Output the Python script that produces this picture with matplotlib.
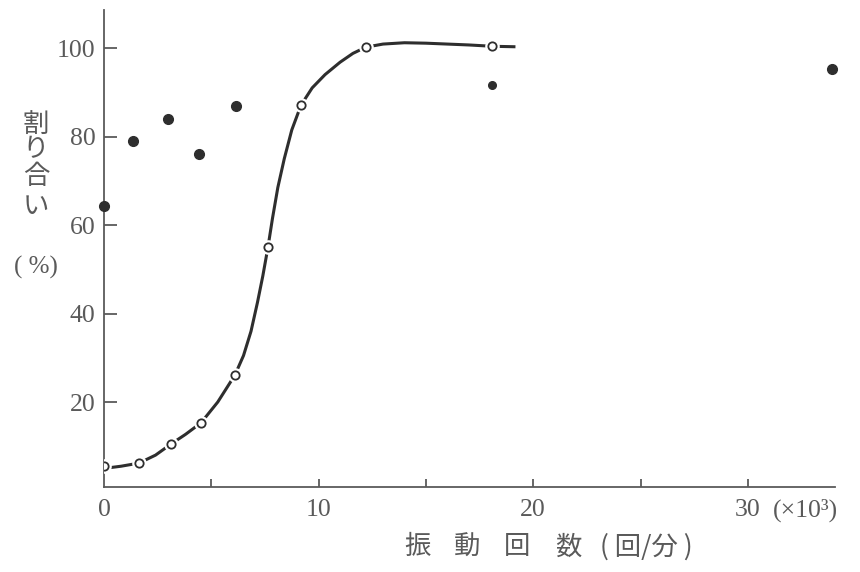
import matplotlib.pyplot as plt
from matplotlib.ticker import FixedLocator

# open circles: measured points on the fitted curve
curve_points_x = [0.0, 1.63, 3.12, 4.52, 6.1, 7.64, 9.18, 12.2, 18.1]
curve_points_y = [5.5, 6.2, 10.5, 15.3, 26.1, 55.0, 87.1, 100.2, 100.4]

# the hand-drawn curve
line_x = [0.0, 0.8, 1.63, 2.4, 3.12, 3.8, 4.52, 5.3, 6.1, 6.5, 6.85, 7.15, 7.4,
          7.64, 7.85, 8.1, 8.4, 8.75, 9.18, 9.7, 10.3, 11.0, 11.6, 12.2, 13.0,
          14.0, 15.0, 16.0, 17.0, 18.1, 19.1]
line_y = [5.0, 5.5, 6.2, 8.0, 10.5, 12.7, 15.3, 20.0, 26.1, 30.5, 36.0, 42.5, 48.5,
          55.0, 61.5, 68.5, 75.0, 81.5, 87.1, 91.0, 94.0, 96.8, 98.8, 100.2, 100.9,
          101.2, 101.1, 100.9, 100.7, 100.4, 100.3]

# filled dots
dots_x = [0.0, 1.35, 2.98, 4.43, 6.15, 33.9]
dots_y = [64.3, 79.0, 84.0, 76.0, 86.9, 95.2]
small_dot_x = [18.07]
small_dot_y = [91.6]

x_ticks = [0, 10, 20, 30]
x_minor = [5, 15, 25]
y_ticks = [20, 40, 60, 80, 100]

GRAY = "#5a5a5a"
INK = "#2e2e2e"
SERIF = ["Liberation Serif", "DejaVu Serif"]
JP = ["Noto Sans CJK JP", "DejaVu Sans"]

fig = plt.figure(figsize=(8.6, 5.72), dpi=100)
ax = fig.add_axes([104 / 860, 85 / 572, 731 / 860, 477 / 572])

ax.plot(line_x, line_y, color=INK, linewidth=2.2, zorder=2)
ax.plot(curve_points_x, curve_points_y, linestyle="none", marker="o",
        markersize=7.5, markerfacecolor="white", markeredgecolor="white",
        markeredgewidth=3.0, zorder=3)
ax.plot(curve_points_x, curve_points_y, linestyle="none", marker="o",
        markersize=6, markerfacecolor="white", markeredgecolor=INK,
        markeredgewidth=1.3, zorder=4)
ax.plot(dots_x, dots_y, linestyle="none", marker="o", markersize=7,
        color=INK, zorder=4, clip_on=False)
ax.plot(small_dot_x, small_dot_y, linestyle="none", marker="o", markersize=5.5,
        color=INK, zorder=4)

ax.set_xlim(0, 34.06)
ax.set_ylim(0.8, 108.6)

for side in ["top", "right"]:
    ax.spines[side].set_visible(False)
for side in ["left", "bottom"]:
    ax.spines[side].set_color(GRAY)
    ax.spines[side].set_linewidth(1.3)

ax.set_xticks(x_ticks)
ax.set_xticklabels(["0", "10", "20", "30"])
ax.xaxis.set_minor_locator(FixedLocator(x_minor))
ax.set_yticks(y_ticks)
ax.set_yticklabels([str(v) for v in y_ticks])
ax.tick_params(axis="x", which="both", direction="in", length=6, width=1.3,
               color=GRAY, labelcolor=GRAY, labelsize=18.5, pad=9)
ax.tick_params(axis="y", direction="in", length=9, width=1.3, color=GRAY,
               labelcolor=GRAY, labelsize=18.5, pad=6)
for lbl in ax.get_xticklabels() + ax.get_yticklabels():
    lbl.set_family(SERIF)
# no tick mark at x = 0
ax.xaxis.get_major_ticks()[0].tick1line.set_visible(False)

fig.text(773 / 860, 1 - 517 / 572, "(×10³)", ha="left", va="baseline",
         color=GRAY, fontsize=18.5, family=SERIF)

# vertical y label, one character per line
for ch, yc in zip("割り合い", [124, 150, 177, 206]):
    fig.text(36 / 860, 1 - yc / 572, ch, ha="center", va="center",
             fontsize=19, color=GRAY, family=JP)
fig.text(36 / 860, 1 - 267 / 572, "( %)", ha="center", va="center",
         fontsize=18, color=GRAY, family=SERIF)

# x label, characters spaced as in the original
for ch, xc in zip("振動回数", [417, 467, 517, 568]):
    fig.text(xc / 860, 1 - 547 / 572, ch, ha="center", va="center",
             fontsize=19, color=GRAY, family=JP)
fig.text(646 / 860, 1 - 547 / 572, "( 回/分 )", ha="center", va="center",
         fontsize=19, color=GRAY, family=JP)

fig.savefig("out.png", dpi=100, facecolor="white")
